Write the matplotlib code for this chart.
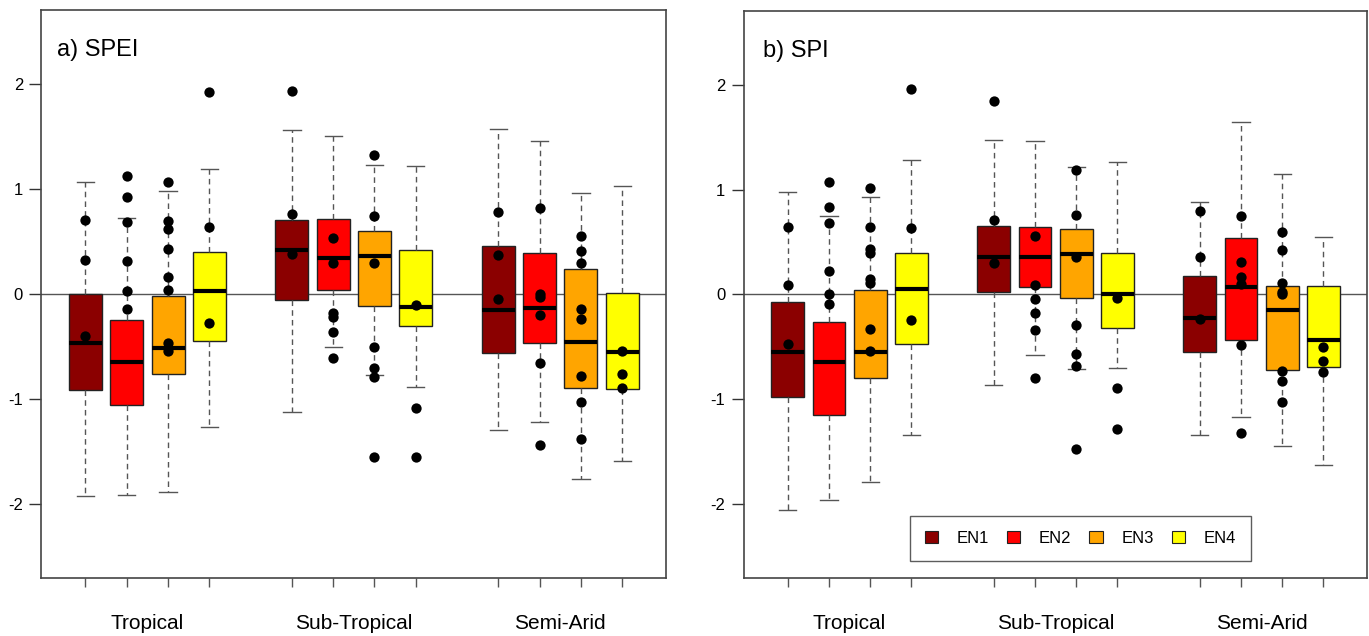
import matplotlib.pyplot as plt
from matplotlib.patches import Patch

plt.rcParams['font.family'] = ['Liberation Sans', 'DejaVu Sans']

regions = ['Tropical', 'Sub-Tropical', 'Semi-Arid']
groups = ['EN1', 'EN2', 'EN3', 'EN4']
colors = ['#8B0000', '#FF0000', '#FFA500', '#FFFF00']
positions = [1, 2, 3, 4, 6, 7, 8, 9, 11, 12, 13, 14]

# a) SPEI  (order: Tropical EN1-4, Sub-Tropical EN1-4, Semi-Arid EN1-4)
spei_med = [-0.47, -0.65, -0.51, 0.03, 0.42, 0.34, 0.36, -0.12, -0.15, -0.13, -0.46, -0.55]
spei_q1 = [-0.91, -1.06, -0.76, -0.45, -0.06, 0.04, -0.11, -0.30, -0.56, -0.47, -0.89, -0.90]
spei_q3 = [0.00, -0.25, -0.02, 0.40, 0.70, 0.71, 0.60, 0.42, 0.46, 0.39, 0.24, 0.01]
spei_lo = [-1.92, -1.91, -1.88, -1.26, -1.12, -0.50, -0.77, -0.88, -1.29, -1.22, -1.76, -1.59]
spei_hi = [1.06, 0.72, 0.98, 1.19, 1.56, 1.50, 1.23, 1.22, 1.57, 1.45, 0.96, 1.03]
spei_pts = [
    [0.70, 0.32, -0.40],
    [1.12, 0.92, 0.68, 0.31, 0.03, -0.14],
    [1.06, 0.69, 0.62, 0.43, 0.16, 0.04, -0.47, -0.54],
    [1.92, 0.64, -0.28],
    [1.93, 0.76, 0.38],
    [0.53, 0.29, -0.18, -0.22, -0.36, -0.61],
    [1.32, 0.74, 0.29, -0.50, -0.70, -0.79, -1.55],
    [-0.10, -1.08, -1.55],
    [0.78, 0.37, -0.05],
    [0.82, 0.00, -0.03, -0.20, -0.66, -1.44],
    [0.55, 0.41, 0.29, -0.14, -0.24, -0.78, -1.03, -1.38],
    [-0.54, -0.76, -0.89],
]

# b) SPI
spi_med = [-0.55, -0.64, -0.55, 0.05, 0.36, 0.36, 0.39, 0.00, -0.22, 0.07, -0.15, -0.43]
spi_q1 = [-0.98, -1.15, -0.80, -0.47, 0.02, 0.07, -0.03, -0.32, -0.55, -0.43, -0.72, -0.69]
spi_q3 = [-0.07, -0.26, 0.04, 0.40, 0.65, 0.64, 0.62, 0.40, 0.18, 0.54, 0.08, 0.08]
spi_lo = [-2.05, -1.96, -1.79, -1.34, -0.86, -0.58, -0.71, -0.70, -1.34, -1.17, -1.44, -1.62]
spi_hi = [0.98, 0.75, 0.93, 1.28, 1.47, 1.46, 1.21, 1.26, 0.88, 1.64, 1.15, 0.55]
spi_pts = [
    [0.64, 0.09, -0.47],
    [1.07, 0.83, 0.68, 0.22, 0.00, -0.09],
    [1.01, 0.64, 0.43, 0.40, 0.15, 0.11, -0.33, -0.54],
    [1.96, 0.63, -0.24],
    [1.84, 0.71, 0.30],
    [0.56, 0.09, -0.04, -0.18, -0.34, -0.80],
    [1.19, 0.76, 0.36, -0.29, -0.57, -0.68, -1.47],
    [-0.03, -0.89, -1.28],
    [0.80, 0.36, -0.23],
    [0.75, 0.31, 0.17, 0.10, -0.48, -1.32],
    [0.60, 0.42, 0.11, 0.02, 0.00, -0.73, -0.82, -1.02],
    [-0.50, -0.63, -0.74],
]

panels = [
    ('a) SPEI', spei_med, spei_q1, spei_q3, spei_lo, spei_hi, spei_pts, 0.0256),
    ('b) SPI', spi_med, spi_q1, spi_q3, spi_lo, spi_hi, spi_pts, 0.0316),
]

fig = plt.figure(figsize=(13.69, 6.36), dpi=100)
ax_rects = [[0.0300, 0.0912, 0.4565, 0.8931], [0.5431, 0.0912, 0.4555, 0.8915]]

for k, (title, med, q1, q3, lo, hi, pts, tx) in enumerate(panels):
    ax = fig.add_axes(ax_rects[k])
    ax.axhline(0, color='#555555', lw=1.0, zorder=0)
    stats = []
    for i in range(len(med)):
        stats.append({'med': med[i], 'q1': q1[i], 'q3': q3[i],
                      'whislo': lo[i], 'whishi': hi[i], 'fliers': []})
    bp = ax.bxp(stats, positions=positions, widths=0.8, capwidths=0.42,
                patch_artist=True, showfliers=False,
                boxprops=dict(edgecolor='#222222', linewidth=1.0),
                medianprops=dict(color='black', linewidth=3.0),
                whiskerprops=dict(color='#555555', linewidth=1.0, linestyle=(0, (4, 3))),
                capprops=dict(color='#555555', linewidth=1.0))
    for i, box in enumerate(bp['boxes']):
        box.set_facecolor(colors[i % 4])
        box.set_zorder(2)
    for m in bp['medians']:
        m.set_zorder(3)
    for i, p in enumerate(pts):
        ax.scatter([positions[i]] * len(p), p, s=55, color='black', zorder=4, linewidths=0)

    ax.set_xlim(-0.075, 15.06)
    ax.set_ylim(-2.7, 2.7)
    ax.set_yticks([-2, -1, 0, 1, 2])
    ax.set_yticklabels(['-2', '-1', '0', '1', '2'])
    ax.tick_params(axis='y', length=9, width=1.0, color='#333333', pad=4, labelsize=12)
    ax.set_xticks(positions)
    ax.set_xticklabels([''] * len(positions))
    ax.tick_params(axis='x', which='major', length=6.5, width=1.0, color='#555555')
    ax.set_xticks([2.5, 7.5, 12.5], minor=True)
    ax.set_xticklabels(regions, minor=True)
    ax.tick_params(axis='x', which='minor', length=0, pad=26, labelsize=15)
    for s in ax.spines.values():
        s.set_color('#444444')
        s.set_linewidth(1.2)
    ax.text(tx, 0.93, title, transform=ax.transAxes, ha='left', va='center', fontsize=17)

    if k == 1:
        handles = [Patch(facecolor=c, edgecolor='#222222', linewidth=0.8) for c in colors]
        leg = ax.legend(handles, groups, loc='center', bbox_to_anchor=(0.54, 0.07),
                        ncol=4, fontsize=12, frameon=True, fancybox=False,
                        edgecolor='#333333', handlelength=0.8, handleheight=0.7,
                        handletextpad=1.1, columnspacing=1.1, borderpad=0.9)
        leg.get_frame().set_linewidth(1.0)

fig.savefig('out.png', dpi=100)
